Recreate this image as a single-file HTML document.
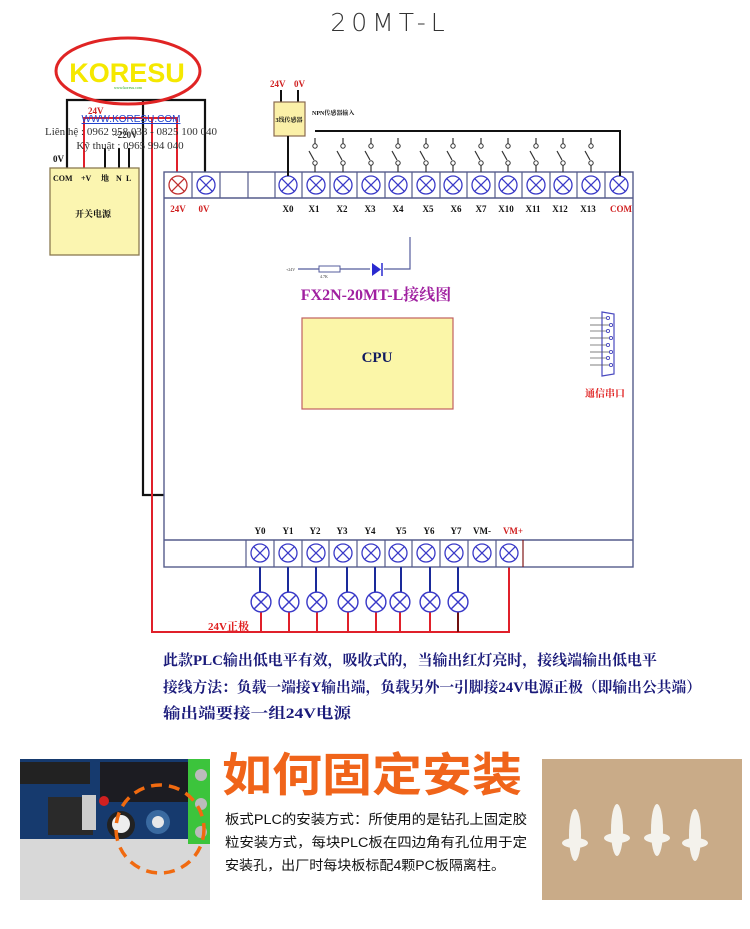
<!DOCTYPE html>
<html><head><meta charset="utf-8"><style>
html,body{margin:0;padding:0;background:#fff;}
body{width:750px;height:929px;overflow:hidden;position:relative;font-family:"Liberation Serif","Noto Serif CJK SC",serif;}
svg{position:absolute;left:0;top:0;}
</style></head><body>
<svg width="750" height="929" viewBox="0 0 750 929" xmlns="http://www.w3.org/2000/svg">
<defs>
<g id="t"><circle r="9" fill="#fff" stroke="#3a3ac8" stroke-width="1.3"/><path d="M-6.4,-6.4L6.4,6.4M6.4,-6.4L-6.4,6.4" stroke="#3a3ac8" stroke-width="1.3"/></g>
<g id="sw"><circle cx="0" cy="-30" r="2.2" fill="#fff" stroke="#333" stroke-width="1"/><line x1="0" y1="-38" x2="0" y2="-32" stroke="#333" stroke-width="1.2"/><line x1="-6" y1="-25" x2="-1" y2="-16" stroke="#333" stroke-width="1.2"/><circle cx="0" cy="-13" r="2.2" fill="#fff" stroke="#333" stroke-width="1"/><line x1="0" y1="-11" x2="0" y2="-4" stroke="#333" stroke-width="1.2"/></g>
</defs>
<!-- title -->
<text x="390" y="31" text-anchor="middle" font-family="DejaVu Sans,sans-serif" font-weight="200" font-size="25" letter-spacing="5" fill="#333">20MT-L</text>

<!-- wires black -->
<path d="M67,168V100H205V172" fill="none" stroke="#111" stroke-width="2.2"/>
<path d="M143,100V495H482V540" fill="none" stroke="#111" stroke-width="2.2"/>
<line x1="105" y1="148" x2="105" y2="168" stroke="#111" stroke-width="2"/>
<line x1="119" y1="148" x2="119" y2="168" stroke="#111" stroke-width="2"/>
<line x1="129" y1="148" x2="129" y2="168" stroke="#111" stroke-width="2"/>
<!-- red wires -->
<path d="M84,168V118H177V172" fill="none" stroke="#e0202a" stroke-width="2"/>
<path d="M152,118V632H509V560" fill="none" stroke="#e0202a" stroke-width="2"/>

<!-- power supply -->
<rect x="50" y="168" width="89" height="87" fill="#fbf5b0" stroke="#8a7a50" stroke-width="1.3"/>
<g font-size="8" font-weight="bold" fill="#111">
<text x="53" y="181">COM</text><text x="81" y="181">+V</text><text x="101" y="181">地</text><text x="116" y="181">N</text><text x="126" y="181">L</text>
<text x="75" y="217" font-size="9">开关电源</text>
<text x="53" y="162" font-size="9">0V</text>
<text x="88" y="114" font-size="9" fill="#d02020">24V</text>
<text x="113" y="138" font-size="9" fill="#333">~220V</text>
</g>

<!-- logo -->
<ellipse cx="128" cy="71" rx="72" ry="33" fill="none" stroke="#e02424" stroke-width="3"/>
<text x="127" y="82" text-anchor="middle" font-family="Liberation Sans,sans-serif" font-size="27" font-weight="bold" fill="#f5e800">KORESU</text>
<text x="128" y="89" text-anchor="middle" font-size="4" fill="#2a2">www.koresu.com</text>
<text x="131" y="122" text-anchor="middle" font-family="Liberation Sans,sans-serif" font-size="10" fill="#2244cc" text-decoration="underline">WWW.KORESU.COM</text>
<text x="131" y="135" text-anchor="middle" font-size="11" fill="#333">Liên hệ : 0962 958 038 - 0825 100 040</text>
<text x="130" y="149" text-anchor="middle" font-size="11" fill="#333">Kỹ thuật : 0965 994 040</text>

<!-- board -->
<rect x="164" y="172" width="469" height="395" fill="#fff" stroke="#555c8c" stroke-width="1.4"/>
<line x1="164" y1="198" x2="633" y2="198" stroke="#555c8c" stroke-width="1.4"/>
<line x1="164" y1="540" x2="633" y2="540" stroke="#555c8c" stroke-width="1.4"/>
<g stroke="#555c8c" stroke-width="1.2">
<line x1="192" y1="172" x2="192" y2="198"/><line x1="220" y1="172" x2="220" y2="198"/><line x1="248" y1="172" x2="248" y2="198"/><line x1="275" y1="172" x2="275" y2="198"/><line x1="302" y1="172" x2="302" y2="198"/><line x1="330" y1="172" x2="330" y2="198"/><line x1="357" y1="172" x2="357" y2="198"/><line x1="385" y1="172" x2="385" y2="198"/><line x1="412" y1="172" x2="412" y2="198"/><line x1="440" y1="172" x2="440" y2="198"/><line x1="467" y1="172" x2="467" y2="198"/><line x1="495" y1="172" x2="495" y2="198"/><line x1="522" y1="172" x2="522" y2="198"/><line x1="550" y1="172" x2="550" y2="198"/><line x1="577" y1="172" x2="577" y2="198"/><line x1="605" y1="172" x2="605" y2="198"/>
<line x1="246" y1="540" x2="246" y2="567"/><line x1="274" y1="540" x2="274" y2="567"/><line x1="302" y1="540" x2="302" y2="567"/><line x1="329" y1="540" x2="329" y2="567"/><line x1="357" y1="540" x2="357" y2="567"/><line x1="385" y1="540" x2="385" y2="567"/><line x1="412" y1="540" x2="412" y2="567"/><line x1="440" y1="540" x2="440" y2="567"/><line x1="468" y1="540" x2="468" y2="567"/><line x1="496" y1="540" x2="496" y2="567"/><line x1="523" y1="540" x2="523" y2="567" stroke="#801818"/>
</g>
<!-- top terminals -->
<g transform="translate(178,185)"><circle r="9" fill="#fff" stroke="#c03030" stroke-width="1.3"/><path d="M-6.4,-6.4L6.4,6.4M6.4,-6.4L-6.4,6.4" stroke="#c03030" stroke-width="1.3"/></g>
<use href="#t" x="206" y="185"/>
<use href="#t" x="288" y="185"/><use href="#t" x="316" y="185"/><use href="#t" x="343" y="185"/><use href="#t" x="371" y="185"/><use href="#t" x="398" y="185"/><use href="#t" x="426" y="185"/><use href="#t" x="453" y="185"/><use href="#t" x="481" y="185"/><use href="#t" x="508" y="185"/><use href="#t" x="536" y="185"/><use href="#t" x="563" y="185"/><use href="#t" x="591" y="185"/><use href="#t" x="619" y="185"/>
<g font-size="9" font-weight="bold" fill="#111" text-anchor="middle">
<text x="178" y="212" fill="#d02020">24V</text><text x="204" y="212" fill="#d02020">0V</text>
<text x="288" y="212">X0</text><text x="314" y="212">X1</text><text x="342" y="212">X2</text><text x="370" y="212">X3</text><text x="398" y="212">X4</text><text x="428" y="212">X5</text><text x="456" y="212">X6</text><text x="481" y="212">X7</text><text x="506" y="212">X10</text><text x="533" y="212">X11</text><text x="560" y="212">X12</text><text x="588" y="212">X13</text><text x="621" y="212" fill="#d02020">COM</text>
</g>
<!-- sensor -->
<line x1="281" y1="90" x2="281" y2="102" stroke="#111" stroke-width="2"/>
<line x1="298" y1="90" x2="298" y2="102" stroke="#111" stroke-width="2"/>
<rect x="274" y="102" width="31" height="34" fill="#fbf0a8" stroke="#8a6a50" stroke-width="1.2"/>
<text x="289" y="122" text-anchor="middle" font-size="6" font-weight="bold" fill="#111">3线传感器</text>
<line x1="288" y1="136" x2="288" y2="176" stroke="#111" stroke-width="2"/>
<text x="270" y="87" font-size="9" font-weight="bold" fill="#d02020">24V</text><text x="294" y="87" font-size="9" font-weight="bold" fill="#d02020">0V</text>
<text x="312" y="115" font-size="6" font-weight="bold" fill="#111">NPN传感器输入</text>
<path d="M315,131H620V176" fill="none" stroke="#111" stroke-width="2"/>
<use href="#sw" x="315" y="176"/><use href="#sw" x="343" y="176"/><use href="#sw" x="371" y="176"/><use href="#sw" x="398" y="176"/><use href="#sw" x="426" y="176"/><use href="#sw" x="453" y="176"/><use href="#sw" x="481" y="176"/><use href="#sw" x="508" y="176"/><use href="#sw" x="536" y="176"/><use href="#sw" x="563" y="176"/><use href="#sw" x="591" y="176"/>

<!-- LED circuit -->
<path d="M298,269H370M384,269H410V237" fill="none" stroke="#555c9c" stroke-width="1.2"/>
<rect x="319" y="266" width="21" height="6" fill="#fff" stroke="#555c9c"/>
<path d="M372,263L372,276L381,269.5Z" fill="#2a2ad0"/><line x1="382" y1="263" x2="382" y2="276" stroke="#2a2ad0" stroke-width="1.5"/>
<text x="286" y="271" font-size="4" fill="#333">+24V</text><text x="320" y="278" font-size="4" fill="#333">4.7K</text>
<text x="376" y="300" text-anchor="middle" font-size="16" font-weight="bold" fill="#a020a0">FX2N-20MT-L接线图</text>
<rect x="302" y="318" width="151" height="91" fill="#fbf6a8" stroke="#c06060" stroke-width="1.2"/>
<text x="377" y="362" text-anchor="middle" font-size="15" font-weight="bold" fill="#111a60">CPU</text>
<!-- serial -->
<path d="M602,312L614,314V374L602,376Z" fill="#fff" stroke="#4a4ac0" stroke-width="1.2"/>
<g fill="#fff" stroke="#4a4ac0" stroke-width="0.9"><circle cx="608" cy="318" r="1.6"/><circle cx="611" cy="325" r="1.6"/><circle cx="608" cy="331" r="1.6"/><circle cx="611" cy="338" r="1.6"/><circle cx="608" cy="345" r="1.6"/><circle cx="611" cy="352" r="1.6"/><circle cx="608" cy="358" r="1.6"/><circle cx="611" cy="365" r="1.6"/></g>
<g stroke="#555" stroke-width="0.7"><line x1="590" y1="318" x2="606" y2="318"/><line x1="590" y1="325" x2="609" y2="325"/><line x1="590" y1="331" x2="606" y2="331"/><line x1="590" y1="338" x2="609" y2="338"/><line x1="590" y1="345" x2="606" y2="345"/><line x1="590" y1="352" x2="609" y2="352"/><line x1="590" y1="358" x2="606" y2="358"/><line x1="590" y1="365" x2="609" y2="365"/></g>
<text x="605" y="397" text-anchor="middle" font-size="10" font-weight="bold" fill="#e02020">通信串口</text>

<!-- bottom terminals -->
<use href="#t" x="260" y="553"/><use href="#t" x="288" y="553"/><use href="#t" x="316" y="553"/><use href="#t" x="343" y="553"/><use href="#t" x="371" y="553"/><use href="#t" x="398" y="553"/><use href="#t" x="426" y="553"/><use href="#t" x="454" y="553"/><use href="#t" x="482" y="553"/><use href="#t" x="509" y="553"/>
<g font-size="9" font-weight="bold" fill="#111" text-anchor="middle">
<text x="260" y="534">Y0</text><text x="288" y="534">Y1</text><text x="315" y="534">Y2</text><text x="342" y="534">Y3</text><text x="370" y="534">Y4</text><text x="401" y="534">Y5</text><text x="429" y="534">Y6</text><text x="456" y="534">Y7</text><text x="482" y="534">VM-</text><text x="513" y="534" fill="#d02020">VM+</text>
</g>
<!-- lamps -->
<g stroke="#1a2a9a" stroke-width="2"><line x1="260" y1="567" x2="260" y2="592"/><line x1="288" y1="567" x2="288" y2="592"/><line x1="316" y1="567" x2="316" y2="592"/><line x1="347" y1="567" x2="347" y2="592"/><line x1="375" y1="567" x2="375" y2="592"/><line x1="401" y1="567" x2="401" y2="592"/><line x1="430" y1="567" x2="430" y2="592"/><line x1="458" y1="567" x2="458" y2="592"/></g>
<g stroke="#e0202a" stroke-width="2"><line x1="261" y1="612" x2="261" y2="632"/><line x1="289" y1="612" x2="289" y2="632"/><line x1="317" y1="612" x2="317" y2="632"/><line x1="348" y1="612" x2="348" y2="632"/><line x1="376" y1="612" x2="376" y2="632"/><line x1="400" y1="612" x2="400" y2="632"/><line x1="430" y1="612" x2="430" y2="632"/><line x1="458" y1="612" x2="458" y2="632" stroke="#701010"/></g>
<g transform="scale(1.1)"><use href="#t" x="237.3" y="547.3"/><use href="#t" x="262.7" y="547.3"/><use href="#t" x="288" y="547.3"/><use href="#t" x="316.4" y="547.3"/><use href="#t" x="341.8" y="547.3"/><use href="#t" x="363.6" y="547.3"/><use href="#t" x="390.9" y="547.3"/><use href="#t" x="416.4" y="547.3"/></g>
<text x="208" y="630" font-size="11" font-weight="bold" fill="#e02020">24V正极</text>

<!-- notes -->
<g font-size="15" font-weight="bold" fill="#1a1a7a">
<text x="163" y="665" textLength="494" lengthAdjust="spacingAndGlyphs">此款PLC输出低电平有效，吸收式的，当输出红灯亮时，接线端输出低电平</text>
<text x="163" y="692" textLength="538" lengthAdjust="spacingAndGlyphs">接线方法：负载一端接Y输出端，负载另外一引脚接24V电源正极（即输出公共端）</text>
<text x="163" y="718" textLength="188" lengthAdjust="spacingAndGlyphs">输出端要接一组24V电源</text>
</g>

<!-- left photo -->
<rect x="20" y="759" width="190" height="141" fill="#d8d8d8"/>
<rect x="20" y="759" width="170" height="80" fill="#163a6e"/>
<rect x="20" y="762" width="70" height="22" fill="#222"/>
<rect x="100" y="762" width="90" height="40" fill="#1c1c22"/>
<rect x="48" y="797" width="45" height="38" fill="#2a2a2a"/>
<rect x="82" y="795" width="14" height="35" fill="#ccc"/>
<circle cx="104" cy="801" r="5" fill="#d02020"/>
<circle cx="121" cy="825" r="14" fill="#222"/><circle cx="121" cy="824" r="9" fill="#eee"/>
<circle cx="158" cy="822" r="12" fill="#3a6aa0"/><circle cx="158" cy="822" r="6" fill="#e8e8e8"/>
<rect x="188" y="759" width="22" height="85" fill="#3cc43c"/>
<circle cx="201" cy="775" r="6" fill="#bbb"/><circle cx="201" cy="804" r="6" fill="#bbb"/><circle cx="201" cy="832" r="6" fill="#bbb"/>
<circle cx="160" cy="829" r="44" fill="none" stroke="#f06a10" stroke-width="3.5" stroke-dasharray="11 7"/>

<!-- heading -->
<text x="372" y="791" text-anchor="middle" font-family="Liberation Sans,'Noto Sans CJK SC',sans-serif" font-size="46" font-weight="bold" fill="#f0641a" textLength="300" lengthAdjust="spacingAndGlyphs">如何固定安装</text>
<g font-family="Liberation Sans,'Noto Sans CJK SC',sans-serif" font-size="13.5" fill="#111">
<text x="225" y="824" textLength="302" lengthAdjust="spacingAndGlyphs">板式PLC的安装方式：所使用的是钻孔上固定胶</text>
<text x="225" y="847" textLength="302" lengthAdjust="spacingAndGlyphs">粒安装方式，每块PLC板在四边角有孔位用于定</text>
<text x="225" y="870" textLength="280" lengthAdjust="spacingAndGlyphs">安装孔，出厂时每块板标配4颗PC板隔离柱。</text>
</g>

<!-- right photo -->
<rect x="542" y="759" width="200" height="141" fill="#c9ab88"/>
<g fill="#f4f2ec">
<ellipse cx="575" cy="835" rx="6" ry="26"/><ellipse cx="575" cy="843" rx="13" ry="5"/>
<ellipse cx="617" cy="830" rx="6" ry="26"/><ellipse cx="617" cy="838" rx="13" ry="5"/>
<ellipse cx="657" cy="830" rx="6" ry="26"/><ellipse cx="657" cy="838" rx="13" ry="5"/>
<ellipse cx="695" cy="835" rx="6" ry="26"/><ellipse cx="695" cy="843" rx="13" ry="5"/>
</g>
</svg>
</body></html>
